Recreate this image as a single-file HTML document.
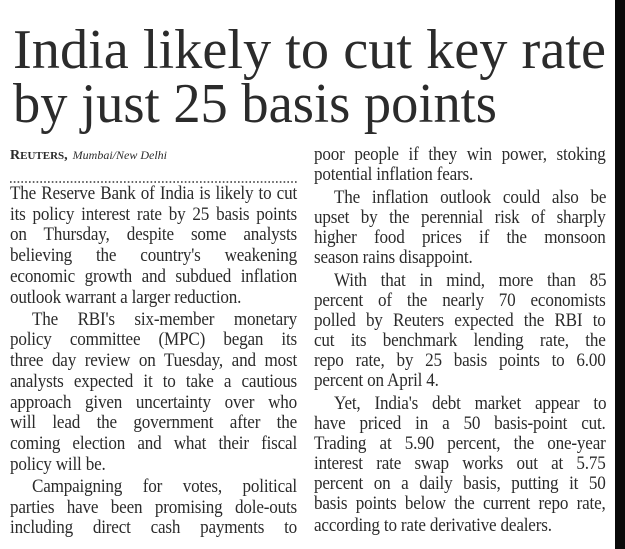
<!DOCTYPE html>
<html><head><meta charset="utf-8"><style>
html,body{margin:0;padding:0;background:#fff;width:625px;height:549px;overflow:hidden;position:relative}
svg{display:block;position:absolute;left:0;top:0}
text{font-family:"Liberation Serif",serif;fill:#2b2b2b}
.l{position:absolute;font-family:"Liberation Serif",serif;font-size:18.6px;line-height:20px;height:20px;color:#2b2b2b;white-space:nowrap;text-align:justify;text-align-last:justify;letter-spacing:-0.2px;transform:scaleX(0.92);transform-origin:0 0}
.c1{left:10px;width:312px}
.c2{left:314px;width:317px}
.i1{left:32px;width:288px}
.i2{left:334px;width:296px}
.e{text-align-last:left}
</style></head><body>
<svg width="625" height="549" viewBox="0 0 625 549">
<rect x="615" y="0" width="10" height="549" fill="#0a0a0a"/>
<text x="13" y="68" font-size="56" textLength="593" lengthAdjust="spacingAndGlyphs">India likely to cut key rate</text>
<text x="13" y="122" font-size="56" textLength="484" lengthAdjust="spacingAndGlyphs">by just 25 basis points</text>
<text x="10" y="159" font-size="14" font-weight="bold">R<tspan font-size="11">EUTERS</tspan>,<tspan font-style="italic" font-weight="normal" font-size="12" dx="5">Mumbai/New Delhi</tspan></text>
<line x1="10" y1="182" x2="297" y2="182" stroke="#333" stroke-width="1.6" stroke-dasharray="1.6 2.2"/>
</svg>
<div class="l c1" style="top:184px">The Reserve Bank of India is likely to cut</div>
<div class="l c1" style="top:204.7px">its policy interest rate by 25 basis points</div>
<div class="l c1" style="top:225.4px">on Thursday, despite some analysts</div>
<div class="l c1" style="top:246.1px">believing the country's weakening</div>
<div class="l c1" style="top:266.8px">economic growth and subdued inflation</div>
<div class="l c1 e" style="top:287.5px">outlook warrant a larger reduction.</div>
<div class="l i1" style="top:309.7px">The RBI's six-member monetary</div>
<div class="l c1" style="top:330.4px">policy committee (MPC) began its</div>
<div class="l c1" style="top:351.1px">three day review on Tuesday, and most</div>
<div class="l c1" style="top:371.8px">analysts expected it to take a cautious</div>
<div class="l c1" style="top:392.5px">approach given uncertainty over who</div>
<div class="l c1" style="top:413.2px">will lead the government after the</div>
<div class="l c1" style="top:433.9px">coming election and what their fiscal</div>
<div class="l c1 e" style="top:454.6px">policy will be.</div>
<div class="l i1" style="top:476.8px">Campaigning for votes, political</div>
<div class="l c1" style="top:497.5px">parties have been promising dole-outs</div>
<div class="l c1" style="top:518.2px">including direct cash payments to</div>

<div class="l c2" style="top:145px">poor people if they win power, stoking</div>
<div class="l c2 e" style="top:165px">potential inflation fears.</div>
<div class="l i2" style="top:188px">The inflation outlook could also be</div>
<div class="l c2" style="top:208px">upset by the perennial risk of sharply</div>
<div class="l c2" style="top:228px">higher food prices if the monsoon</div>
<div class="l c2 e" style="top:248px">season rains disappoint.</div>
<div class="l i2" style="top:271px">With that in mind, more than 85</div>
<div class="l c2" style="top:291px">percent of the nearly 70 economists</div>
<div class="l c2" style="top:311px">polled by Reuters expected the RBI to</div>
<div class="l c2" style="top:331px">cut its benchmark lending rate, the</div>
<div class="l c2" style="top:351px">repo rate, by 25 basis points to 6.00</div>
<div class="l c2 e" style="top:371px">percent on April 4.</div>
<div class="l i2" style="top:394px">Yet, India's debt market appear to</div>
<div class="l c2" style="top:414px">have priced in a 50 basis-point cut.</div>
<div class="l c2" style="top:434px">Trading at 5.90 percent, the one-year</div>
<div class="l c2" style="top:454px">interest rate swap works out at 5.75</div>
<div class="l c2" style="top:474px">percent on a daily basis, putting it 50</div>
<div class="l c2" style="top:494px">basis points below the current repo rate,</div>
<div class="l c2 e" style="top:516px">according to rate derivative dealers.</div>
</body></html>
